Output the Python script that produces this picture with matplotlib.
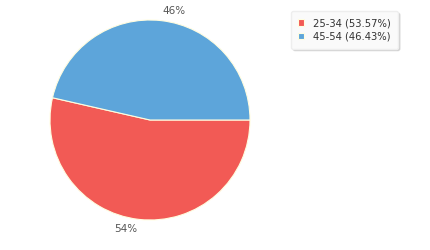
import matplotlib
matplotlib.use("Agg")
import matplotlib.pyplot as plt

# Age group shares
labels = ['25-34', '45-54']
values = [53.57, 46.43]
colors = ['#F25A55', '#5DA5DA']

fig = plt.figure(figsize=(4.3, 2.5), dpi=100)
ax = fig.add_axes([50 / 430, 30 / 250, 200 / 430, 200 / 250])

wedges, texts = ax.pie(values, colors=colors, startangle=0, counterclock=False,
                       labels=['%d%%' % round(v) for v in values], labeldistance=1.1,
                       wedgeprops={'edgecolor': '#FFFDE0', 'linewidth': 0.8},
                       textprops={'fontsize': 7.5, 'color': '#555555'})
ax.set_xlim(-1, 1)
ax.set_ylim(-1, 1)
ax.set_aspect('equal')

leg_labels = ['%s (%.2f%%)' % (l, v) for l, v in zip(labels, values)]
leg = fig.legend(wedges, leg_labels, loc='upper left', bbox_to_anchor=(291 / 430, 1 - 11 / 250),
                 borderaxespad=0, fontsize=7.2, frameon=True, fancybox=True,
                 shadow={'color': '#BBBBBB', 'alpha': 0.5, 'ox': 1.5, 'oy': -1.5},
                 handlelength=0.6, handleheight=0.6, handletextpad=0.9, borderpad=0.7,
                 labelspacing=0.35)
leg.get_frame().set_edgecolor('#EEEEEE')
leg.get_frame().set_facecolor('#FAFAFA')
for t in leg.get_texts():
    t.set_color('#333333')

fig.savefig('out.png', dpi=100)
